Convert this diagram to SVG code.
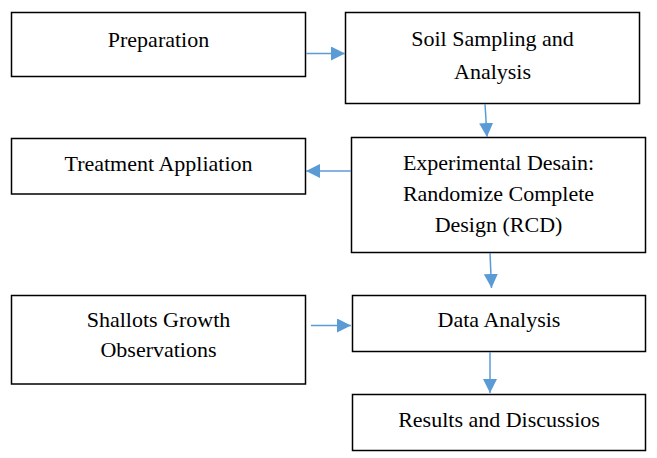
<svg xmlns="http://www.w3.org/2000/svg" width="657" height="458" viewBox="0 0 657 458" font-family="'Liberation Serif', serif" font-size="22">
<defs>
<marker id="ah" markerUnits="userSpaceOnUse" markerWidth="16" markerHeight="14" refX="14" refY="7" orient="auto">
<path d="M0,0 L14,7 L0,14 Z" fill="#5B9BD5"/>
</marker>
</defs>
<rect x="0" y="0" width="657" height="458" fill="#fff"/>
<g id="n1" fill="#fff" stroke="#000" stroke-width="1.5"><rect x="11.5" y="12.5" width="294" height="64"/></g>
<g id="n2" fill="#fff" stroke="#000" stroke-width="1.5"><rect x="345.5" y="12.5" width="294" height="91"/></g>
<g id="n3" fill="#fff" stroke="#000" stroke-width="1.5"><rect x="11.5" y="138.5" width="294" height="55.5"/></g>
<g id="n4" fill="#fff" stroke="#000" stroke-width="1.5"><rect x="351.5" y="137.5" width="294" height="115"/></g>
<g id="n5" fill="#fff" stroke="#000" stroke-width="1.5"><rect x="11.5" y="295.5" width="294" height="88.5"/></g>
<g id="n6" fill="#fff" stroke="#000" stroke-width="1.5"><rect x="352.5" y="295.5" width="293" height="56"/></g>
<g id="n7" fill="#fff" stroke="#000" stroke-width="1.5"><rect x="352.5" y="394.5" width="293" height="56"/></g>
<g id="labels" fill="#000" text-anchor="middle">
<text x="158.5" y="47">Preparation</text>
<text x="492.5" y="46">Soil Sampling and</text>
<text x="492.5" y="79">Analysis</text>
<text x="158.5" y="171">Treatment Appliation</text>
<text x="498.5" y="170">Experimental Desain:</text>
<text x="498.5" y="201">Randomize Complete</text>
<text x="498.5" y="232">Design (RCD)</text>
<text x="158.5" y="327">Shallots Growth</text>
<text x="158.5" y="357">Observations</text>
<text x="499" y="327">Data Analysis</text>
<text x="499" y="427">Results and Discussios</text>
</g>
<g id="connectors" stroke="#5B9BD5" stroke-width="1.5" fill="none" marker-end="url(#ah)">
<line x1="306" y1="53.5" x2="345" y2="53.5"/>
<line x1="485" y1="104" x2="487" y2="137"/>
<line x1="351" y1="171" x2="306" y2="171"/>
<line x1="490" y1="253" x2="491.5" y2="288"/>
<line x1="311" y1="325.5" x2="351" y2="325.5"/>
<line x1="490" y1="352" x2="490" y2="393"/>
</g>
</svg>
